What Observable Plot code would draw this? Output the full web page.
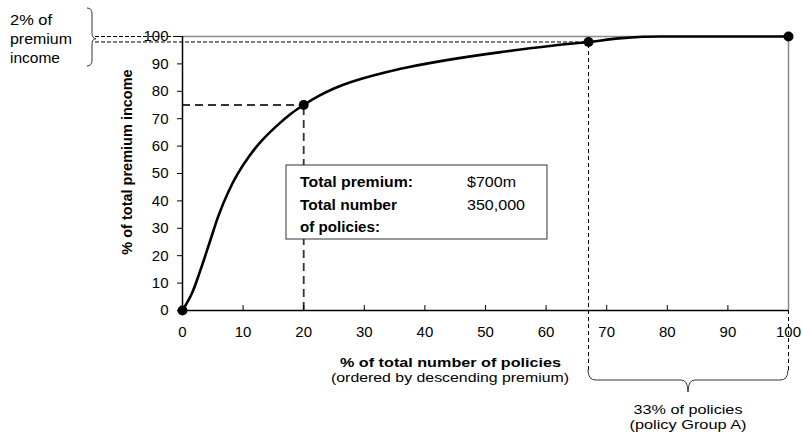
<!DOCTYPE html>
<html>
<head>
<meta charset="utf-8">
<script src="https://cdn.jsdelivr.net/npm/d3@7"></script>
<script src="https://cdn.jsdelivr.net/npm/@observablehq/plot@0.6"></script>
<style>
  html, body { margin: 0; padding: 0; background: #fff; }
  #chart { width: 803px; height: 436px; overflow: hidden; }
  svg { overflow: visible; }
</style>
</head>
<body>
<div id="chart"></div>
<script>
// ---- data ----
const policyPct  = [0, 1.5, 3, 4.5, 6, 7.5, 9, 11, 13, 15.5, 18, 20, 22.5, 25, 27.7, 36, 43.1, 52.5, 61.3, 67, 72, 76, 80, 90, 100];
const premiumPct = [0, 6, 15, 25, 35, 43, 49.5, 56.3, 61.8, 67.3, 72, 75, 78.3, 81, 83.3, 88.2, 91.2, 94.3, 96.7, 98, 99.3, 99.9, 100, 100, 100];
const keyPolicy  = [0, 20, 67, 100];
const keyPremium = [0, 75, 98, 100];
const xTicks = [0, 10, 20, 30, 40, 50, 60, 70, 80, 90, 100];
const yTicks = [0, 10, 20, 30, 40, 50, 60, 70, 80, 90, 100];

const curve = policyPct.map((x, i) => ({x, y: premiumPct[i]}));
const keys = keyPolicy.map((x, i) => ({x, y: keyPremium[i]}));
const refA = [keys[1]];   // 20% of policies -> 75% premium
const refB = [keys[2]];   // 67% of policies -> 98% premium
const refTop = [keys[3]]; // 100 / 100

const FONT = "'Liberation Sans', Arial, Helvetica, sans-serif";

const chart = Plot.plot({
  width: 803,
  height: 436,
  marginLeft: 182,
  marginRight: 15,
  marginTop: 36,
  marginBottom: 126,
  x: {domain: [0, 100]},
  y: {domain: [0, 100]},
  style: {fontFamily: FONT, fontSize: "15px", color: "#000", background: "#fff", overflow: "visible"},
  marks: [
    // frame top / right (grey)
    Plot.ruleY(refTop, {y: "y", stroke: "#8a8a8a", strokeWidth: 1.5}),
    Plot.ruleX(refTop, {x: "x", stroke: "#8a8a8a", strokeWidth: 1.5}),
    // dashed continuation below axis at 100
    Plot.ruleX(refTop, {x: "x", y1: 0, y2: 0, insetTop: 60, stroke: "#000", strokeWidth: 1, strokeDasharray: "4,3"}),
    // dashed guides to the 2% brace on the left
    Plot.ruleY(refTop, {y: "y", x1: 0, x2: 0, insetLeft: -87, stroke: "#000", strokeWidth: 1, strokeDasharray: "4,2"}),
    Plot.ruleY(refB, {y: "y", x1: 0, x2: "x", insetLeft: -87, stroke: "#000", strokeWidth: 1, strokeDasharray: "4,2"}),
    Plot.ruleX(refB, {x: "x", y1: 0, y2: "y", insetTop: 60, stroke: "#000", strokeWidth: 1, strokeDasharray: "4,3"}),
    // dashed guides at 20% / 75%
    Plot.ruleY(refA, {y: "y", x1: 0, x2: "x", stroke: "#333", strokeWidth: 1.8, strokeDasharray: "8,5"}),
    Plot.ruleX(refA, {x: "x", y1: 0, y2: "y", stroke: "#333", strokeWidth: 1.8, strokeDasharray: "8,5"}),
    // axes
    Plot.axisY({ticks: yTicks, tickSize: 5, tickPadding: 9, label: null, fontSize: 15}),
    Plot.axisX({ticks: xTicks, tickSize: 0, tickPadding: 16, label: null, fontSize: 15}),
    Plot.ruleX(xTicks.slice(1, -1), {x: d => d, y1: 0, y2: 0, insetBottom: 5, stroke: "#000", strokeWidth: 1}),
    Plot.ruleX([0], {stroke: "#000", strokeWidth: 1.5}),
    Plot.ruleY([0], {stroke: "#000", strokeWidth: 1.5}),
    // curve and points
    Plot.line(curve, {x: "x", y: "y", curve: "catmull-rom", stroke: "#000", strokeWidth: 2.6}),
    Plot.dot(keys, {x: "x", y: "y", r: 5, fill: "#000", stroke: "none"})
  ]
});

document.getElementById("chart").appendChild(chart);

// ---- annotations ----
const svg = d3.select(chart);
const xs = chart.scale("x"), ys = chart.scale("y");
const sx = v => xs.apply(v), sy = v => ys.apply(v);
const g = svg.append("g").attr("font-family", FONT).attr("fill", "#000");

function txt(x, y, s, o = {}) {
  const t = g.append("text")
    .attr("x", x).attr("y", y)
    .attr("font-size", o.size || 14)
    .attr("font-weight", o.bold ? "bold" : "normal")
    .attr("text-anchor", o.anchor || "start")
    .text(s);
  if (o.len) t.attr("textLength", o.len).attr("lengthAdjust", "spacingAndGlyphs");
  if (o.rotate) t.attr("transform", `rotate(${o.rotate},${x},${y})`);
  return t;
}

// y axis title
txt(132, 162, "% of total premium income", {bold: true, size: 14.5, anchor: "middle", rotate: -90});

// x axis title
txt(450.5, 367, "% of total number of policies", {bold: true, size: 13.5, anchor: "middle", len: 221});
txt(450, 382, "(ordered by descending premium)", {size: 13.5, anchor: "middle", len: 238});

// info box
g.append("rect").attr("x", 286).attr("y", 165).attr("width", 261).attr("height", 74)
  .attr("fill", "#fff").attr("stroke", "#333").attr("stroke-width", 1);
txt(300, 187, "Total premium:", {bold: true, len: 113});
txt(467, 187, "$700m", {len: 49});
txt(300, 210, "Total number", {bold: true, len: 97});
txt(467, 210, "350,000", {len: 58});
txt(300, 232, "of policies:", {bold: true, len: 80});

// left brace: 2% of premium income
txt(10, 25, "2% of", {len: 42});
txt(10, 44, "premium", {len: 62});
txt(10, 63, "income", {len: 50});
const ty = (sy(100) + sy(98)) / 2;
g.append("path")
  .attr("d", `M87,8 Q92,8 92,14 L92,${ty - 6} Q92,${ty} 96,${ty} Q92,${ty} 92,${ty + 6} L92,60 Q92,66 87,66`)
  .attr("fill", "none").attr("stroke", "#333").attr("stroke-width", 1);

// bottom brace: 33% of policies
const bx1 = sx(67), bx2 = sx(100), bm = (bx1 + bx2) / 2;
g.append("path")
  .attr("d", `M${bx1},370 Q${bx1},380 ${bx1 + 8},380 L${bm - 7},380 Q${bm},380 ${bm},392 Q${bm},380 ${bm + 7},380 L${bx2 - 8},380 Q${bx2},380 ${bx2},370`)
  .attr("fill", "none").attr("stroke", "#333").attr("stroke-width", 1);
txt(bm, 414, "33% of policies", {size: 13.5, anchor: "middle", len: 109});
txt(bm, 429, "(policy Group A)", {size: 13.5, anchor: "middle", len: 117});
</script>
</body>
</html>
